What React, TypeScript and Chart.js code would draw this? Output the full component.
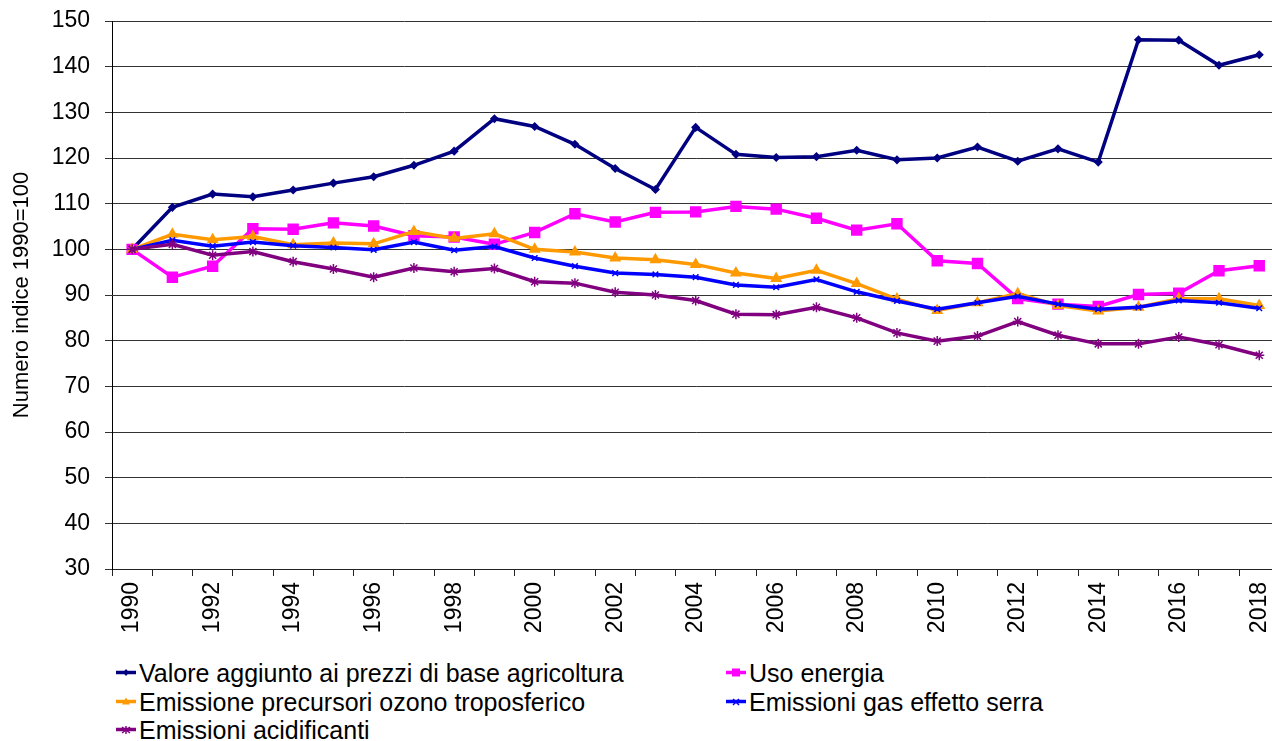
import React, { useEffect, useRef } from "react";
import { Chart, registerables } from "chart.js";

Chart.register(...registerables);

const years = [
  "1990", "1991", "1992", "1993", "1994", "1995", "1996", "1997", "1998", "1999",
  "2000", "2001", "2002", "2003", "2004", "2005", "2006", "2007", "2008", "2009",
  "2010", "2011", "2012", "2013", "2014", "2015", "2016", "2017", "2018",
];

const valoreAggiunto = [100, 109.2, 112.1, 111.5, 113, 114.5, 115.9, 118.4, 121.5, 128.6, 126.9, 123, 117.7, 113.1, 126.7, 120.8, 120.1, 120.3, 121.7, 119.6, 120, 122.4, 119.3, 122, 119.1, 145.9, 145.8, 140.3, 142.6];
const usoEnergia = [100, 93.9, 96.3, 104.5, 104.4, 105.8, 105.1, 103, 102.7, 101.1, 103.7, 107.8, 106, 108.1, 108.2, 109.4, 108.8, 106.8, 104.2, 105.6, 97.5, 96.9, 89.2, 88, 87.5, 90.1, 90.4, 95.3, 96.4];
const precursoriOzono = [100, 103.3, 102.1, 102.8, 101, 101.4, 101.2, 103.9, 102.4, 103.4, 100, 99.4, 98.1, 97.7, 96.7, 94.8, 93.6, 95.4, 92.5, 89.1, 86.6, 88.3, 90.3, 87.7, 86.5, 87.3, 89.2, 89.2, 87.7];
const gasSerra = [100, 102, 100.7, 101.6, 100.8, 100.4, 99.9, 101.6, 99.8, 100.6, 98.1, 96.3, 94.8, 94.5, 93.9, 92.2, 91.7, 93.4, 90.7, 88.7, 86.9, 88.3, 89.7, 88, 86.9, 87.3, 88.8, 88.3, 87.1];
const acidificanti = [100, 101.1, 98.7, 99.5, 97.3, 95.7, 93.9, 95.9, 95.1, 95.8, 92.9, 92.6, 90.6, 90, 88.8, 85.8, 85.7, 87.3, 85, 81.7, 79.9, 81, 84.2, 81.2, 79.3, 79.3, 80.8, 79.1, 76.8];

const yMin = 30;
const yMax = 150;
const yStep = 10;
const yTitle = "Numero indice 1990=100";

const FONT = "'Liberation Sans', Arial, sans-serif";

type Series = {
  label: string;
  data: number[];
  color: string;
  point: string;
  radius: number;
  order: number;
};

const series: Series[] = [
  { label: "Valore aggiunto ai prezzi di base agricoltura", data: valoreAggiunto, color: "#000080", point: "rectRot", radius: 3.5, order: 5 },
  { label: "Uso energia", data: usoEnergia, color: "#FF00FF", point: "rect", radius: 7, order: 4 },
  { label: "Emissione precursori ozono troposferico", data: precursoriOzono, color: "#FF9900", point: "triangle", radius: 5.5, order: 3 },
  { label: "Emissioni gas effetto serra", data: gasSerra, color: "#0000FF", point: "crossRot", radius: 4, order: 2 },
  { label: "Emissioni acidificanti", data: acidificanti, color: "#800080", point: "star", radius: 5, order: 1 },
];

function Marker({ s }: { s: Series }) {
  const c = s.color;
  let shape: React.ReactNode = null;
  if (s.point === "rectRot") shape = <polygon points="10,2 13,5.5 10,9 7,5.5" fill={c} />;
  else if (s.point === "rect") shape = <rect x="6" y="1.5" width="8" height="8" fill={c} />;
  else if (s.point === "triangle") shape = <polygon points="10,1.5 14,8.5 6,8.5" fill={c} />;
  else if (s.point === "crossRot")
    shape = (
      <g stroke={c} strokeWidth="1.5">
        <line x1="7" y1="3" x2="13" y2="9" />
        <line x1="13" y1="3" x2="7" y2="9" />
      </g>
    );
  else
    shape = (
      <g stroke={c} strokeWidth="1.5">
        <line x1="6" y1="3" x2="14" y2="9" />
        <line x1="14" y1="3" x2="6" y2="9" />
        <line x1="10" y1="2" x2="10" y2="10" />
      </g>
    );
  return (
    <svg width="22" height="12" style={{ display: "inline-block", verticalAlign: "middle", marginRight: 1 }}>
      <line x1="0" y1="5.5" x2="20" y2="5.5" stroke={c} strokeWidth="3.5" />
      {shape}
    </svg>
  );
}

export default function App() {
  const ref = useRef<HTMLCanvasElement | null>(null);

  useEffect(() => {
    const canvas = ref.current;
    if (!canvas) return;
    const chart = new Chart(canvas, {
      type: "line",
      data: {
        labels: years,
        datasets: series.map((s) => ({
          label: s.label,
          data: s.data,
          borderColor: s.color,
          backgroundColor: s.color,
          pointBorderColor: s.color,
          pointBackgroundColor: s.color,
          pointStyle: s.point as any,
          pointRadius: s.radius,
          pointBorderWidth: 1.5,
          borderWidth: 3.5,
          tension: 0,
          fill: false,
          order: s.order,
        })),
      },
      options: {
        responsive: false,
        animation: false,
        devicePixelRatio: 1,
        layout: { padding: { top: 21, left: 0, right: 0, bottom: 0 } },
        plugins: {
          legend: { display: false },
          tooltip: { enabled: false },
        },
        scales: {
          x: {
            type: "category",
            offset: true,
            grid: {
              offset: true,
              drawOnChartArea: false,
              drawTicks: true,
              tickLength: 7,
              color: "#222",
            },
            border: { color: "#222", width: 1 },
            ticks: {
              autoSkip: false,
              maxRotation: 90,
              minRotation: 90,
              padding: 6,
              color: "#000",
              font: { family: FONT, size: 23 },
              callback: function (this: any, _v: any, i: number) {
                return i % 2 === 0 ? years[i] : "";
              },
            },
            afterFit: (scale: any) => {
              scale.height = 86;
            },
          },
          y: {
            min: yMin,
            max: yMax,
            ticks: {
              stepSize: yStep,
              padding: 15,
              color: "#000",
              font: { family: FONT, size: 23 },
            },
            grid: {
              color: "#333",
              lineWidth: 1,
              drawTicks: true,
              tickLength: 7,
            },
            border: { color: "#000", width: 1 },
            title: {
              display: true,
              text: yTitle,
              color: "#000",
              font: { family: FONT, size: 22 },
              padding: { top: 9, bottom: 0 },
            },
            afterFit: (scale: any) => {
              scale.width = 112;
              scale.paddingTop = 0;
              scale.paddingBottom = 0;
            },
          },
        },
      },
    });
    return () => chart.destroy();
  }, []);

  const legendRows: Series[][] = [
    [series[0], series[1]],
    [series[2], series[3]],
    [series[4]],
  ];

  return (
    <div
      style={{
        position: "fixed",
        left: 0,
        top: 0,
        width: 1272,
        height: 741,
        overflow: "hidden",
        background: "#fff",
        fontFamily: FONT,
      }}
    >
      <canvas ref={ref} width={1293} height={655} style={{ position: "absolute", left: 0, top: 0, width: 1293, height: 655 }} />
      <div style={{ position: "absolute", left: 116, top: 659, fontSize: 25, lineHeight: "28.5px", color: "#000" }}>
        {legendRows.map((row, ri) => (
          <div key={ri} style={{ display: "flex", height: 28.5, whiteSpace: "nowrap" }}>
            {row.map((s, ci) => (
              <div key={ci} style={{ width: ci === 0 ? 610 : 420, display: "flex", alignItems: "center" }}>
                <Marker s={s} />
                <span>{s.label}</span>
              </div>
            ))}
          </div>
        ))}
      </div>
    </div>
  );
}
